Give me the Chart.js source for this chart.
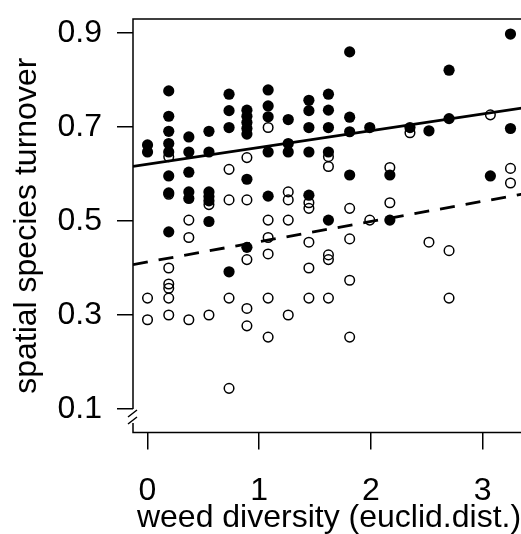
<!DOCTYPE html>
<html>
<head>
<meta charset="utf-8">
<script src="https://cdn.jsdelivr.net/npm/chart.js@4"></script>
<style>
    body { margin: 0; overflow: hidden; background: #fff; }
    canvas { display: block; }
</style>
</head>
<body>
<canvas id="turnoverChart" width="540" height="534"></canvas>
<script>
// Data
// filled circles
const filledX = [
    0, 0,
    0.19, 0.19, 0.19, 0.19, 0.19, 0.19, 0.19, 0.19,
    0.37, 0.37, 0.37, 0.37, 0.37,
    0.55, 0.55, 0.55, 0.55, 0.55, 0.55,
    0.73, 0.73, 0.73, 0.73,
    0.89, 0.89, 0.89, 0.89, 0.89, 0.89, 0.89,
    1.08, 1.08, 1.08, 1.08, 1.08,
    1.26, 1.26, 1.26,
    1.445, 1.445, 1.445, 1.445, 1.445,
    1.62, 1.62, 1.62, 1.62, 1.62,
    1.81, 1.81, 1.81, 1.81,
    1.99,
    2.17, 2.17,
    2.35,
    2.52,
    2.70, 2.70,
    3.07,
    3.25, 3.25
];
const filledY = [
    0.662, 0.647,
    0.777, 0.723, 0.691, 0.665, 0.647, 0.596, 0.56, 0.477,
    0.679, 0.647, 0.604, 0.562, 0.548,
    0.691, 0.647, 0.562, 0.552, 0.543, 0.499,
    0.770, 0.735, 0.699, 0.392,
    0.736, 0.723, 0.71, 0.697, 0.685, 0.589, 0.444,
    0.779, 0.745, 0.722, 0.647, 0.553,
    0.716, 0.665, 0.647,
    0.757, 0.735, 0.699, 0.647, 0.555,
    0.770, 0.736, 0.699, 0.647, 0.502,
    0.860, 0.721, 0.690, 0.598,
    0.699,
    0.598, 0.502,
    0.699,
    0.692,
    0.821, 0.718,
    0.596,
    0.898, 0.697
];

// open circles
const openX = [
    0, 0,
    0.19, 0.19, 0.19, 0.19, 0.19, 0.19, 0.19,
    0.37, 0.37, 0.37,
    0.55, 0.55,
    0.73, 0.73, 0.73, 0.73,
    0.89, 0.89, 0.89, 0.89, 0.89,
    1.08, 1.08, 1.08, 1.08, 1.08, 1.08,
    1.26, 1.26, 1.26, 1.26,
    1.445, 1.445, 1.445, 1.445, 1.445,
    1.62, 1.62, 1.62, 1.62, 1.62,
    1.81, 1.81, 1.81, 1.81,
    1.99,
    2.17, 2.17,
    2.35,
    2.52,
    2.70, 2.70,
    3.07,
    3.25, 3.25
];
const openY = [
    0.336, 0.29,
    0.637, 0.557, 0.40, 0.366, 0.357, 0.336, 0.30,
    0.502, 0.465, 0.29,
    0.535, 0.30,
    0.61, 0.545, 0.336, 0.144,
    0.635, 0.545, 0.418, 0.314, 0.277,
    0.699, 0.502, 0.465, 0.430, 0.336, 0.253,
    0.562, 0.545, 0.502, 0.30,
    0.539, 0.527, 0.455, 0.40, 0.336,
    0.637, 0.616, 0.428, 0.418, 0.336,
    0.527, 0.462, 0.374, 0.253,
    0.502,
    0.614, 0.539,
    0.688,
    0.455,
    0.437, 0.336,
    0.726,
    0.612, 0.581
];

// fitted lines (intercept, slope)
const solidFit = [0.621, 0.0356];
const dashedFit = [0.413, 0.043];

// axes
const xTicks = [0, 1, 2, 3];
const yTicks = [0.1, 0.3, 0.5, 0.7, 0.9];
const xRange = [-0.13, 3.38];
const yRange = [0.05, 0.93];

const labelFont = { family: '"Liberation Sans", Arial, sans-serif', size: 32 };

function toPoints(xs, ys) {
    return xs.map((x, i) => ({ x: x, y: ys[i] }));
}

function fitLine(fit) {
    return xRange.map(x => ({ x: x, y: fit[0] + fit[1] * x }));
}

// box round the plot, with the axis break at the bottom of the y axis
const boxPlugin = {
    id: 'rBox',
    afterDraw(chart) {
        const ctx = chart.ctx;
        const a = chart.chartArea;
        const yBreak = chart.scales.y.getPixelForValue(yTicks[0]);
        const left = a.left;
        ctx.save();
        ctx.strokeStyle = '#000';
        ctx.lineWidth = 1.5;
        ctx.beginPath();
        ctx.moveTo(left, yBreak);
        ctx.lineTo(left, a.top);
        ctx.lineTo(a.right, a.top);
        ctx.lineTo(a.right, a.bottom);
        ctx.lineTo(left, a.bottom);
        ctx.lineTo(left, yBreak + 14);
        // the two slashes
        ctx.moveTo(left - 5, yBreak + 8);
        ctx.lineTo(left + 4, yBreak + 1);
        ctx.moveTo(left - 5, yBreak + 15);
        ctx.lineTo(left + 4, yBreak + 8);
        ctx.stroke();
        ctx.restore();
    }
};

// keep the plot box where it is in the picture: no extra room for half labels
function noLabelPadding(scale) {
    scale.paddingTop = 0;
    scale.paddingBottom = 0;
    scale.paddingLeft = 0;
    scale.paddingRight = 0;
}

const ctx = document.getElementById('turnoverChart').getContext('2d');

new Chart(ctx, {
    type: 'scatter',
    data: {
        datasets: [
            {
                type: 'line',
                label: 'fit filled',
                data: fitLine(solidFit),
                borderColor: '#000',
                borderWidth: 2.8,
                pointRadius: 0,
                fill: false
            },
            {
                type: 'line',
                label: 'fit open',
                data: fitLine(dashedFit),
                borderColor: '#000',
                borderWidth: 2.8,
                borderDash: [15, 11],
                pointRadius: 0,
                fill: false
            },
            {
                label: 'open',
                data: toPoints(openX, openY),
                pointRadius: 4.8,
                pointBorderWidth: 1.5,
                pointBorderColor: '#000',
                pointBackgroundColor: 'rgba(0,0,0,0)'
            },
            {
                label: 'filled',
                data: toPoints(filledX, filledY),
                pointRadius: 5.6,
                pointBorderWidth: 0,
                pointBorderColor: '#000',
                pointBackgroundColor: '#000'
            }
        ]
    },
    options: {
        responsive: false,
        animation: false,
        devicePixelRatio: 1,
        layout: {
            padding: { top: 19, right: 15, bottom: 0, left: 0 }
        },
        plugins: {
            legend: { display: false },
            tooltip: { enabled: false }
        },
        scales: {
            x: {
                type: 'linear',
                min: xRange[0],
                max: xRange[1],
                afterFit: scale => { scale.height = 101.5; noLabelPadding(scale); },
                afterBuildTicks: axis => { axis.ticks = xTicks.map(v => ({ value: v })); },
                border: { display: false },
                grid: {
                    drawOnChartArea: false,
                    drawTicks: true,
                    tickLength: 17,
                    color: '#000',
                    lineWidth: 1.5
                },
                ticks: {
                    color: '#000',
                    font: labelFont,
                    padding: 22,
                    maxRotation: 0,
                    callback: value => value.toString()
                },
                title: {
                    display: true,
                    text: 'weed diversity (euclid.dist.)',
                    color: '#000',
                    font: labelFont,
                    padding: { top: 0, bottom: -3 }
                }
            },
            y: {
                type: 'linear',
                min: yRange[0],
                max: yRange[1],
                afterFit: scale => { scale.width = 133; noLabelPadding(scale); },
                afterBuildTicks: axis => { axis.ticks = yTicks.map(v => ({ value: v })); },
                border: { display: false },
                grid: {
                    drawOnChartArea: false,
                    drawTicks: true,
                    tickLength: 16,
                    color: '#000',
                    lineWidth: 1.5
                },
                ticks: {
                    color: '#000',
                    font: labelFont,
                    padding: 15,
                    callback: value => value.toFixed(1)
                },
                title: {
                    display: true,
                    text: 'spatial species turnover',
                    color: '#000',
                    font: labelFont,
                    padding: { top: 8, bottom: 0 }
                }
            }
        }
    },
    plugins: [boxPlugin]
});
</script>
</body>
</html>
